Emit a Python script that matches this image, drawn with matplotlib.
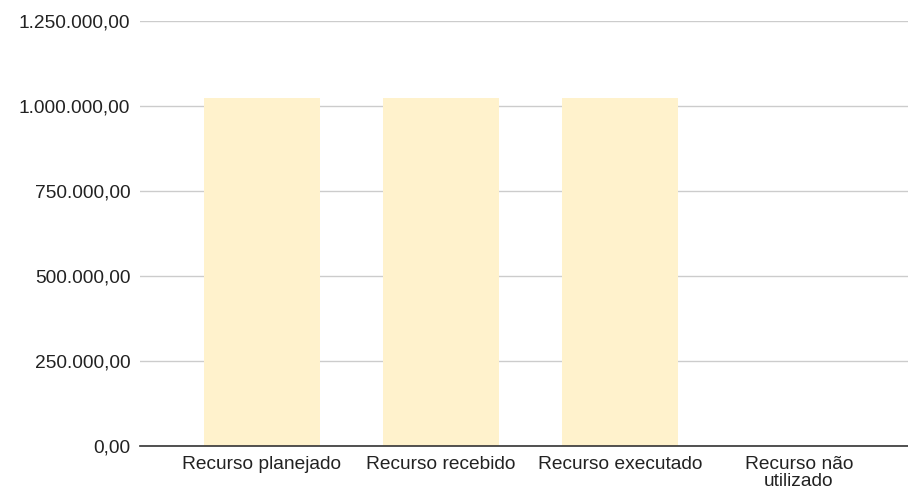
import numpy as np
from matplotlib import pyplot as plt
from matplotlib.ticker import FuncFormatter

categorias = ['Recurso planejado', 'Recurso recebido', 'Recurso executado', 'Recurso não\nutilizado']
valores = [1023000, 1023000, 1023000, 0]
y_ticks = [0, 250000, 500000, 750000, 1000000, 1250000]


def fmt_br(v, pos):
    s = '{:,.2f}'.format(v)
    return s.replace(',', 'X').replace('.', ',').replace('X', '.')


def main():
    plt.rcParams['font.family'] = ['Liberation Sans', 'DejaVu Sans']
    fig = plt.figure(figsize=(9.08, 4.91), dpi=100)
    ax = fig.add_axes([140 / 908, 45 / 491, 768 / 908, 425 / 491])

    x = np.arange(len(categorias))
    ax.bar(x, valores, width=0.65, color='#fff2cc', zorder=2)

    ax.set_ylim(0, 1250000)
    ax.set_xlim(-0.68, 3.61)
    ax.set_yticks(y_ticks)
    ax.yaxis.set_major_formatter(FuncFormatter(fmt_br))
    ax.set_xticks(x)
    ax.set_xticklabels(categorias)

    ax.grid(axis='y', color='#cccccc', linewidth=1, zorder=0)
    for s in ['top', 'right', 'left']:
        ax.spines[s].set_visible(False)
    ax.spines['bottom'].set_color('#333333')
    ax.spines['bottom'].set_linewidth(1.2)
    ax.spines['bottom'].set_zorder(3)

    ax.tick_params(axis='both', length=0, labelsize=13.8, labelcolor='#222222')
    ax.tick_params(axis='y', pad=7)
    ax.tick_params(axis='x', pad=7)
    for lab in ax.get_xticklabels():
        lab.set_linespacing(1.0)

    plt.savefig('out.png', dpi=100)


if __name__ == "__main__":
    main()
